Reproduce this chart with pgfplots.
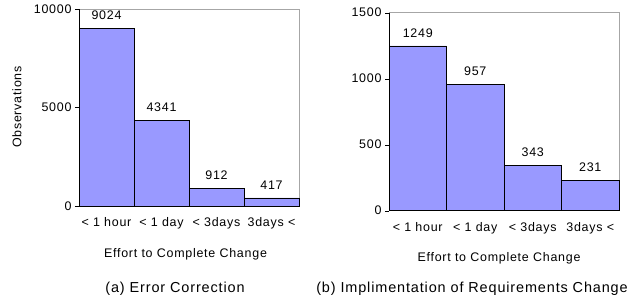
\documentclass[border=0pt]{standalone}
\usepackage{pgfplots}
\pgfplotsset{compat=1.18}
\usepackage{fontspec}
\setmainfont{Liberation Sans}[LetterSpace=6]
\definecolor{barfill}{HTML}{9999FF}
\pgfplotsset{
  effort/.style={
    scale only axis,
    anchor=south west,
    ybar, bar width=1,
    xmin=-0.5, xmax=3.5, ymin=0,
    xtick={0,1,2,3},
    xticklabels={{< 1 hour},{< 1 day},{< 3days},{3days <}},
    x tick style={draw=none},
    ytick pos=left,
    ytick align=outside, major tick length=4bp,
    y tick style={black},
    axis line style={draw=gray!70},
    scaled y ticks=false,
    /pgf/number format/assume math mode=true,
    /pgf/number format/1000 sep={},
    ticklabel style={font=\fontsize{12.5}{14}\selectfont},
    xticklabel style={yshift=-4bp},
    nodes near coords,
    every node near coord/.append style={font=\fontsize{12.5}{14}\selectfont, black, yshift=5bp},
    enlarge x limits=false,
    clip=false,
  }
}
\begin{document}
\begin{tikzpicture}
\useasboundingbox (0,0) rectangle (630bp,303bp);
\begin{axis}[effort,
  at={(79bp,97bp)}, width=220bp, height=197bp,
  ymax=10000, ytick={0,5000,10000},
]
\addplot[fill=barfill, draw=black] coordinates {(0,9024) (1,4341) (2,912) (3,417)};
\draw[black] (rel axis cs:0,1) -- (rel axis cs:0,0) -- (rel axis cs:1,0);
\end{axis}
\begin{axis}[effort,
  at={(389bp,92.3bp)}, width=230bp, height=198bp,
  ymax=1500, ytick={0,500,1000,1500},
]
\addplot[fill=barfill, draw=black] coordinates {(0,1249) (1,957) (2,343) (3,231)};
\draw[black] (rel axis cs:0,1) -- (rel axis cs:0,0) -- (rel axis cs:1,0);
\end{axis}
\node[font=\fontsize{12.5}{14}\selectfont, rotate=90] at (17bp,196bp) {Observations};
\node[font=\fontsize{12.5}{14}\selectfont] at (185.5bp,49bp) {Effort to Complete Change};
\node[font=\fontsize{12.5}{14}\selectfont] at (499bp,45bp) {Effort to Complete Change};
\node[font=\fontsize{14.5}{17}\selectfont] at (175bp,14bp) {(a) Error Correction};
\node[font=\fontsize{14.5}{17}\selectfont] at (472bp,14bp) {(b) Implimentation of Requirements Change};
\end{tikzpicture}
\end{document}
